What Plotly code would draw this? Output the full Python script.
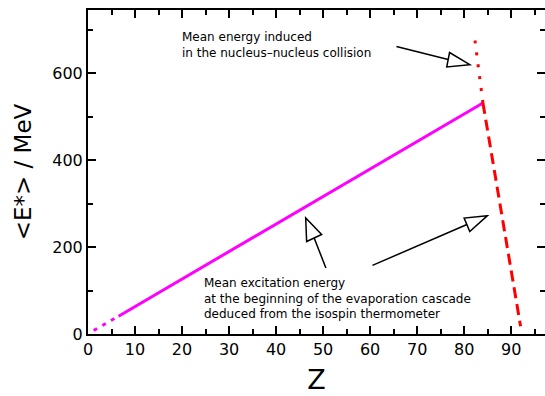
import plotly.graph_objects as go

# Data
mag_dot_z = [1.2, 6.5]
mag_dot_e = [8, 41]
mag_z = [6.5, 84.0]
mag_e = [41, 532]
red_dot_z = [84.0, 82.1]
red_dot_e = [532, 693]
red_dash_z = [84.0, 92.0]
red_dash_e = [532, 18]

x_ticks = [0, 10, 20, 30, 40, 50, 60, 70, 80, 90]
y_ticks = [0, 200, 400, 600]

text_top = "Mean energy induced<br>in the nucleus–nucleus collision"
text_bottom = ("Mean excitation energy<br>at the beginning of the evaporation cascade"
               "<br>deduced from the isospin thermometer")

# arrows: (tail, base-mid, tip, v1, v2) in data coords
arrows = [
    [(65.6, 662), (76.6, 632), (81.2, 620), (76.9, 648), (76.3, 615)],
    [(50.6, 152), (48.1, 221), (46.3, 267), (46.5, 213), (49.7, 229)],
    [(60.5, 158), (80.6, 252), (84.9, 272), (80.0, 267), (81.2, 236)],
]

FONT = "DejaVu Sans, sans-serif"

fig = go.Figure()
fig.add_trace(go.Scatter(x=mag_dot_z, y=mag_dot_e, mode="lines",
                         line=dict(color="#ff00ff", width=3, dash="4px,6px"), showlegend=False))
fig.add_trace(go.Scatter(x=mag_z, y=mag_e, mode="lines",
                         line=dict(color="#ff00ff", width=3), showlegend=False))
fig.add_trace(go.Scatter(x=red_dot_z, y=red_dot_e, mode="lines",
                         line=dict(color="#ff0000", width=3, dash="3px,9px"), showlegend=False))
fig.add_trace(go.Scatter(x=red_dash_z, y=red_dash_e, mode="lines",
                         line=dict(color="#ff0000", width=3, dash="11px,6px"), showlegend=False))

shapes = []
for tail, base, tip, v1, v2 in arrows:
    shapes.append(dict(type="line", xref="x", yref="y", x0=tail[0], y0=tail[1],
                       x1=base[0], y1=base[1], line=dict(color="black", width=1.5)))
    shapes.append(dict(type="path", xref="x", yref="y",
                       path=f"M {tip[0]},{tip[1]} L {v1[0]},{v1[1]} L {v2[0]},{v2[1]} Z",
                       line=dict(color="black", width=1.5), fillcolor="rgba(0,0,0,0)"))

fig.update_layout(
    width=545, height=396,
    margin=dict(l=88, r=0, t=10, b=62),
    paper_bgcolor="white", plot_bgcolor="white",
    font=dict(family=FONT, color="black"),
    shapes=shapes,
    annotations=[
        dict(x=19.6, y=666, xref="x", yref="y", text=text_top, showarrow=False,
             xanchor="left", yanchor="middle", align="left", font=dict(size=12)),
        dict(x=24.3, y=81, xref="x", yref="y", text=text_bottom, showarrow=False,
             xanchor="left", yanchor="middle", align="left", font=dict(size=12)),
    ],
)
fig.update_xaxes(
    range=[0, 97.2], tickvals=x_ticks, ticks="inside", ticklen=8, tickwidth=1.5,
    tickcolor="black", showline=True, linecolor="black", linewidth=2, mirror="ticks",
    showgrid=False, zeroline=False, tickfont=dict(size=16), automargin=False,
    minor=dict(dtick=5, ticks="inside", ticklen=5, tickwidth=1.5, tickcolor="black", showgrid=False),
    title=dict(text="Z", font=dict(size=27), standoff=12),
)
fig.update_yaxes(
    range=[0, 746], tickvals=y_ticks, ticks="inside", ticklen=8, tickwidth=1.5,
    tickcolor="black", showline=True, linecolor="black", linewidth=2, mirror="ticks",
    showgrid=False, zeroline=False, tickfont=dict(size=16), automargin=False,
    minor=dict(dtick=100, ticks="inside", ticklen=5, tickwidth=1.5, tickcolor="black", showgrid=False),
    title=dict(text="<E*> / MeV", font=dict(size=23), standoff=14),
)

fig.write_html("out.html", config={"displayModeBar": False},
               post_script="document.body.style.margin='0';")
